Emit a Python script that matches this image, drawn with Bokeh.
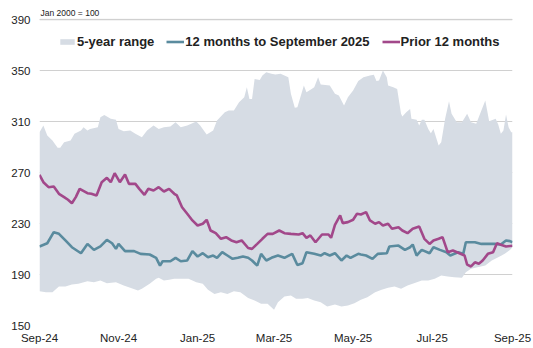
import pandas as pd
from bokeh.plotting import figure
from bokeh.models import Range1d, FixedTicker, DatetimeTickFormatter, Legend, LegendItem, Title, Span
from bokeh.embed import file_html
from bokeh.resources import INLINE

START = "2024-09-01"
tick_dates = ["2024-09-01", "2024-11-01", "2025-01-01", "2025-03-01", "2025-05-01", "2025-07-01", "2025-09-01"]
y_ticks = [150, 190, 230, 270, 310, 350, 390]

# 5-year range: upper bound (day offsets from 1 Sep 2024, index value)
up_days = [0, 3, 6, 10, 14, 16, 19, 24, 27, 32, 34, 37, 39, 45, 47, 50, 55, 59, 61, 65,
           70, 74, 79, 83, 88, 92, 96, 101, 105, 109, 114, 121, 124, 129, 134, 137, 143, 146, 150, 154,
           158, 160, 162, 164, 166, 170, 172, 175, 179, 182, 186, 192, 194, 197, 199, 204, 206, 210, 212, 215,
           217, 224, 228, 231, 235, 238, 242, 246, 250, 255, 258, 260, 262, 265, 268, 269, 273, 276, 279, 280,
           283, 286, 287, 291, 293, 295, 297, 300, 302, 304, 308, 310, 313, 316, 318, 322, 326, 330, 333, 337,
           340, 344, 347, 352, 354, 356, 358, 360, 362, 364, 365]
up_vals = [301.6, 306.9, 299.0, 295.1, 289.4, 289.4, 293.8, 295.1, 300.4, 302.9,
           305.5, 302.9, 304.2, 305.5, 313.3, 315.2, 312.1, 311.3, 304.2, 302.4,
           302.9, 300.4, 297.7, 302.9, 306.9, 304.2, 305.5, 306.1, 309.5, 305.5,
           306.9, 310.0, 306.9, 299.8, 302.9, 310.8, 317.3, 318.6, 318.6, 325.1,
           329.0, 336.9, 327.7, 327.7, 343.4, 342.6, 346.1, 348.7, 347.4, 346.9,
           347.4, 344.7, 331.7, 320.7, 321.2, 338.2, 333.0, 335.6, 336.9, 344.7,
           339.0, 338.2, 331.7, 330.4, 322.5, 329.0, 334.3, 341.8, 344.7, 346.1,
           346.6, 341.8, 342.2, 350.0, 344.7, 338.2, 336.9, 335.6, 316.0, 313.9,
           317.3, 319.9, 312.1, 311.3, 306.9, 311.3, 311.3, 304.2, 300.8, 304.2,
           291.2, 293.8, 312.1, 325.9, 316.0, 309.5, 309.5, 316.0, 309.5, 308.2,
           316.0, 326.5, 310.3, 312.1, 307.6, 300.4, 302.9, 315.5, 305.5, 301.6,
           301.6]

# 5-year range: lower bound
lo_days = [0, 5, 10, 15, 20, 25, 30, 37, 42, 47, 52, 59, 65, 70, 76, 79, 85, 90, 92, 96,
           100, 104, 109, 115, 121, 126, 130, 135, 140, 145, 150, 155, 161, 166, 171, 176, 181, 184, 189, 194,
           198, 203, 207, 212, 217, 222, 228, 233, 238, 243, 248, 253, 259, 264, 269, 274, 279, 284, 289, 295,
           300, 305, 310, 315, 320, 326, 329, 333, 338, 344, 349, 354, 359, 363, 365]
lo_vals = [176.9, 176.1, 176.1, 180.6, 180.6, 182.2, 182.7, 184.7, 183.9, 185.3,
           183.2, 183.9, 181.4, 179.6, 177.5, 178.8, 182.7, 186.6, 187.4, 185.3,
           185.8, 186.6, 186.6, 186.6, 183.9, 182.7, 178.0, 174.8, 176.1, 174.8,
           176.9, 176.1, 171.6, 169.6, 167.0, 167.0, 162.3, 168.3, 172.7, 173.5,
           170.9, 170.9, 171.6, 169.6, 168.3, 164.9, 166.5, 164.9, 165.7, 167.5,
           170.1, 172.2, 176.1, 178.0, 179.6, 180.6, 178.8, 181.4, 183.2, 185.3,
           185.3, 186.6, 189.2, 188.4, 187.9, 187.4, 191.8, 194.5, 195.7, 197.0,
           201.0, 203.6, 206.2, 209.3, 211.4]

# 12 months to September 2025
cur_days = [0, 6, 11, 15, 20, 25, 32, 37, 42, 47, 52, 56, 59, 61, 66, 73, 78, 85, 90, 93,
            95, 101, 105, 109, 114, 118, 122, 126, 130, 134, 137, 141, 145, 149, 153, 157, 161, 164, 168, 171,
            175, 179, 184, 189, 195, 199, 203, 206, 212, 217, 220, 224, 228, 233, 237, 240, 246, 248, 252, 257,
            261, 268, 270, 277, 282, 286, 288, 291, 295, 301, 304, 309, 314, 317, 323, 327, 329, 336, 341, 346,
            351, 356, 360, 363, 365]
cur_vals = [212.0, 214.5, 223.2, 221.9, 216.7, 211.4, 206.7, 214.0, 209.3, 212.0,
            217.1, 214.5, 210.1, 214.0, 208.3, 208.3, 206.2, 205.7, 203.1, 197.0,
            200.4, 200.4, 203.1, 200.4, 201.0, 208.3, 204.1, 206.7, 203.6, 204.9,
            203.1, 207.5, 204.9, 202.3, 203.1, 204.1, 203.1, 201.0, 197.0, 206.2,
            201.0, 203.1, 204.9, 203.1, 206.2, 197.5, 198.9, 207.5, 206.2, 204.9,
            206.7, 204.9, 206.7, 201.0, 204.9, 203.1, 206.2, 205.7, 204.9, 202.3,
            206.2, 206.7, 212.0, 212.7, 209.3, 211.4, 213.5, 204.9, 209.3, 206.7,
            211.4, 209.3, 207.5, 204.9, 207.5, 206.2, 215.3, 215.3, 214.0, 214.0,
            214.0, 213.5, 216.7, 216.2, 215.3]

# Prior 12 months
prior_days = [0, 3, 7, 11, 15, 19, 22, 25, 28, 31, 37, 40, 44, 48, 52, 55, 58, 62, 66, 69,
              74, 77, 81, 84, 88, 92, 96, 100, 104, 106, 110, 114, 118, 122, 126, 129, 132, 136, 140, 144,
              148, 152, 156, 161, 164, 168, 172, 176, 180, 185, 189, 194, 200, 203, 206, 209, 213, 218, 223, 225,
              228, 232, 234, 238, 242, 245, 248, 252, 255, 259, 262, 265, 269, 272, 277, 280, 284, 288, 293, 297,
              301, 304, 308, 311, 315, 319, 324, 328, 330, 333, 336, 339, 342, 346, 350, 353, 356, 360, 365]
prior_vals = [268.2, 262.4, 258.5, 259.0, 253.3, 250.7, 248.6, 245.9, 250.7, 257.2,
              253.8, 253.3, 252.0, 262.4, 265.8, 262.4, 269.5, 262.4, 268.4, 261.1,
              261.1, 257.2, 252.5, 257.2, 255.9, 258.5, 255.1, 257.2, 253.3, 252.0,
              242.8, 237.6, 232.4, 228.4, 229.8, 232.9, 224.5, 222.4, 218.0, 219.3,
              216.7, 215.3, 216.7, 210.8, 210.1, 214.0, 218.0, 221.9, 221.9, 224.5,
              222.4, 221.9, 221.4, 222.4, 218.8, 220.6, 215.3, 221.4, 221.4, 218.8,
              229.0, 236.3, 230.3, 231.1, 232.9, 237.6, 237.1, 238.9, 232.4, 229.8,
              231.1, 228.4, 229.8, 225.9, 227.1, 224.5, 222.4, 225.9, 227.6, 218.0,
              214.0, 216.7, 218.0, 219.3, 207.5, 208.8, 206.7, 204.9, 197.8, 196.3,
              199.6, 198.4, 201.0, 206.2, 207.5, 214.5, 213.3, 212.0, 212.5]

AREA_C = "#d6dce4"
BLUE_C = "#5a8b9e"
PURP_C = "#a2488a"
GRID_C = "#d0d0d0"
FONT = "Liberation Sans"


def to_ms(days):
    base = pd.Timestamp(START)
    return [(base + pd.Timedelta(days=d)).timestamp() * 1000.0 for d in days]


p = figure(width=533, height=348, x_axis_type="datetime", output_backend="svg",
           toolbar_location=None, min_border_left=39, min_border_right=21,
           min_border_top=18, min_border_bottom=23)
p.x_range = Range1d(to_ms([0])[0], to_ms([365])[0])
p.y_range = Range1d(150, 390.8)
p.outline_line_color = None
p.background_fill_color = "white"

area = p.patch(x=to_ms(up_days) + to_ms(lo_days)[::-1], y=up_vals + lo_vals[::-1],
               fill_color=AREA_C, line_color=None)
cur_line = p.line(to_ms(cur_days), cur_vals, line_color=BLUE_C, line_width=2.6)
prior_line = p.line(to_ms(prior_days), prior_vals, line_color=PURP_C, line_width=2.6)

# axes
p.xaxis.ticker = FixedTicker(ticks=[pd.Timestamp(d).timestamp() * 1000.0 for d in tick_dates])
fmt = "%b-%y"
p.xaxis.formatter = DatetimeTickFormatter(years=fmt, months=fmt, days=fmt, hours=fmt,
                                          minutes=fmt, seconds=fmt, milliseconds=fmt,
                                          microseconds=fmt, minsec=fmt, hourmin=fmt)
p.yaxis.ticker = FixedTicker(ticks=y_ticks)
for ax in (p.xaxis[0], p.yaxis[0]):
    ax.axis_line_color = None
    ax.major_tick_line_color = None
    ax.minor_tick_line_color = None
    ax.major_tick_out = 0
    ax.major_tick_in = 0
    ax.major_label_text_font = FONT
    ax.major_label_text_font_size = "11.5px"
    ax.major_label_text_color = "#222222"
p.yaxis.major_label_standoff = 9
p.xaxis.major_label_standoff = 6

p.xgrid.grid_line_color = None
p.ygrid.ticker = FixedTicker(ticks=y_ticks)
p.ygrid.grid_line_color = GRID_C
p.ygrid.grid_line_width = 1

# top gridline at the last tick (drawn explicitly so it shows at the frame edge)
p.add_layout(Span(location=y_ticks[-1], dimension="width", line_color=GRID_C,
                  line_width=1.5, level="overlay"))

legend = Legend(items=[LegendItem(label="5-year range", renderers=[area]),
                       LegendItem(label="12 months to September 2025", renderers=[cur_line]),
                       LegendItem(label="Prior 12 months", renderers=[prior_line])],
                orientation="horizontal", location=(19, 276), glyph_width=18, glyph_height=7,
                label_standoff=1, spacing=12, padding=0, margin=0,
                border_line_color=None, background_fill_alpha=0,
                label_text_font=FONT, label_text_font_style="bold",
                label_text_font_size="13px", label_text_color="#222222")
p.add_layout(legend)

p.add_layout(Title(text="Jan 2000 = 100", align="left", offset=1, standoff=2,
                   text_font=FONT, text_font_size="8.5px", text_font_style="normal",
                   text_color="#222222"), "above")

open("out.html", "w").write(file_html(p, INLINE))
